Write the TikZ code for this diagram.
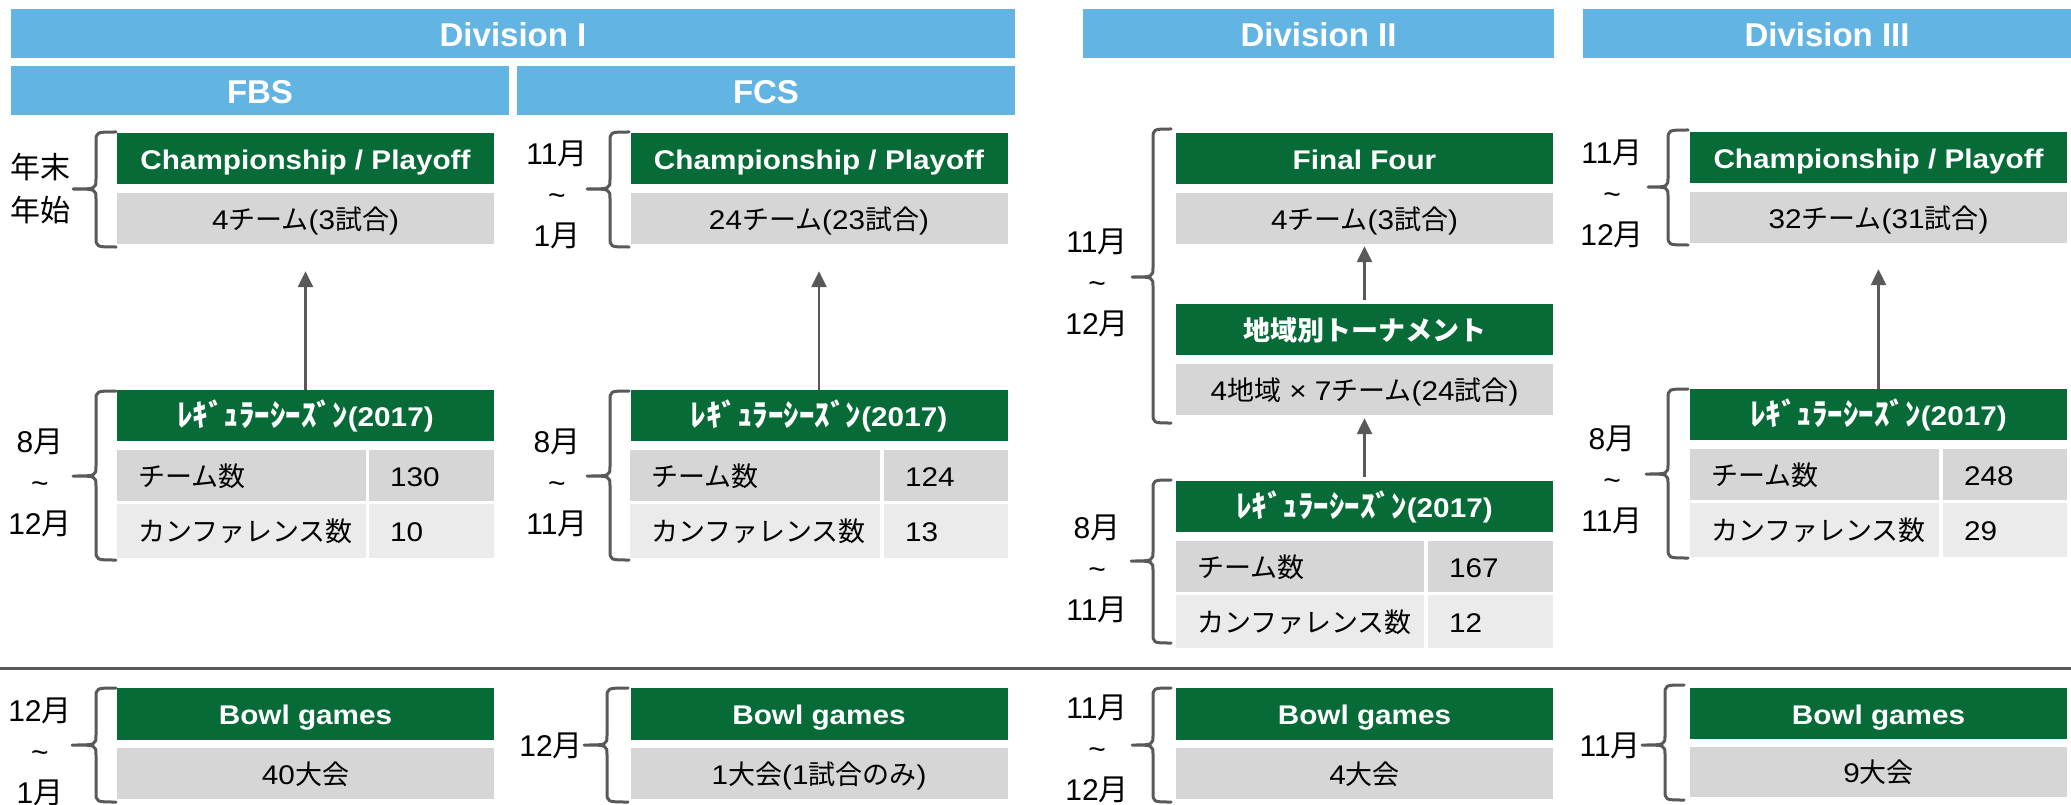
\documentclass[tikz,border=0pt]{standalone}
\usepackage{fontspec}
\setmainfont{Liberation Sans}
\newfontfamily\jpfont{Noto Sans CJK JP}
\newfontfamily\latw[FakeStretch=1.1]{Liberation Sans}
\usetikzlibrary{arrows.meta}
\definecolor{hdrblue}{HTML}{62B4E3}
\definecolor{boxgreen}{HTML}{066B37}
\definecolor{cellgray}{HTML}{D6D6D6}
\definecolor{cellgraytwo}{HTML}{EBEBEB}
\definecolor{linegray}{HTML}{595959}
\newcommand\jtxt[1]{{\jpfont #1}}
\newcommand\hwk[1]{{\jpfont\fontsize{31}{34}\selectfont #1}}
\newcommand\mybrc[6]{\draw[brc] (#1,#4) .. controls (#2,#4) .. (#2,#4+10) -- (#2,#5-10) .. controls (#2,#5) .. (#3,#5) .. controls (#2,#5) .. (#2,#5+10) -- (#2,#6-10) .. controls (#2,#6) .. (#1,#6);}
\begin{document}
\begin{tikzpicture}[x=1pt,y=-1pt,
 hdr/.style={fill=hdrblue, text=white, font=\fontsize{33}{36}\selectfont\bfseries, inner sep=0pt, minimum height=49pt, text height=26pt, text depth=0pt},
 gbox/.style={fill=boxgreen, text=white, font=\latw\bfseries\fontsize{27}{30}\selectfont, inner sep=0pt, minimum width=377pt, text height=21.5pt, text depth=0pt},
 nbox/.style={fill=cellgray, text=black, font=\latw\fontsize{27}{30}\selectfont, inner sep=0pt, minimum width=377pt, text height=21.5pt, text depth=0pt},
 cellA/.style={fill=cellgray, text=black, font=\latw\fontsize{27}{30}\selectfont, inner xsep=21pt, inner ysep=0pt, align=left, text height=21.5pt, text depth=0pt},
 cellB/.style={cellA, fill=cellgraytwo},
 mon/.style={font=\fontsize{30}{41}\selectfont, align=center, inner sep=0pt, text=black},
 brc/.style={draw=linegray, line width=3pt, line cap=round, line join=round},
 arr/.style={draw=linegray, line width=2.5pt, -{Triangle[length=16pt,width=15pt]}},
 sepline/.style={draw=linegray, line width=3pt}
]
\useasboundingbox (0,0) rectangle (2071,805);
\fill[white] (0,0) rectangle (2071,805);

% headers
\node[hdr, minimum width=1004pt] (div1) at (513,33.5) {Division I};
\node[hdr, minimum width=498pt] (fbs) at (260,90.5) {FBS};
\node[hdr, minimum width=498pt] (fcs) at (766,90.5) {FCS};
\node[hdr, minimum width=471pt] (div2) at (1318.5,33.5) {Division II};
\node[hdr, minimum width=488pt] (div3) at (1827,33.5) {Division III};

% FBS
\node[gbox, minimum height=51pt] (fbsChamp) at (305.5,158.5) {Championship / Playoff};
\node[nbox, minimum height=51pt] (fbsChampN) at (305.5,218.5) {4\jtxt{チーム}(3\jtxt{試合})};
\node[gbox, minimum height=51pt] (fbsReg) at (305.5,415.5) {\hwk{ﾚｷﾞｭﾗｰｼｰｽﾞﾝ}(2017)};
\node[cellA, text width=207pt, minimum height=51pt] (fbsT1L) at (241.5,475.5) {\jtxt{チーム数}};
\node[cellA, text width=83pt, minimum height=51pt] (fbsT1R) at (431.5,475.5) {130};
\node[cellB, text width=207pt, minimum height=54pt] (fbsT2L) at (241.5,531) {\jtxt{カンファレンス数}};
\node[cellB, text width=83pt, minimum height=54pt] (fbsT2R) at (431.5,531) {10};
\node[gbox, minimum height=52pt] (fbsBowl) at (305.5,714) {Bowl games};
\node[nbox, minimum height=51pt] (fbsBowlN) at (305.5,773.5) {40\jtxt{大会}};

% FCS
\node[gbox, minimum height=51pt] (fcsChamp) at (819,158.5) {Championship / Playoff};
\node[nbox, minimum height=51pt] (fcsChampN) at (819,218.5) {24\jtxt{チーム}(23\jtxt{試合})};
\node[gbox, minimum height=51pt] (fcsReg) at (819,415.5) {\hwk{ﾚｷﾞｭﾗｰｼｰｽﾞﾝ}(2017)};
\node[cellA, text width=208pt, minimum height=51pt] (fcsT1L) at (755,475.5) {\jtxt{チーム数}};
\node[cellA, text width=82pt, minimum height=51pt] (fcsT1R) at (946,475.5) {124};
\node[cellB, text width=208pt, minimum height=54pt] (fcsT2L) at (755,531) {\jtxt{カンファレンス数}};
\node[cellB, text width=82pt, minimum height=54pt] (fcsT2R) at (946,531) {13};
\node[gbox, minimum height=52pt] (fcsBowl) at (819,714) {Bowl games};
\node[nbox, minimum height=51pt] (fcsBowlN) at (819,773.5) {1\jtxt{大会}(1\jtxt{試合のみ})};

% Division II
\node[gbox, minimum height=51pt] (dtwoFinal) at (1364.5,158.5) {Final Four};
\node[nbox, minimum height=51pt] (dtwoFinalN) at (1364.5,218.5) {4\jtxt{チーム}(3\jtxt{試合})};
\node[gbox, minimum height=51pt] (dtwoReg) at (1364.5,329.5) {\jtxt{地域別トーナメント}};
\node[nbox, minimum height=51pt] (dtwoRegN) at (1364.5,389.5) {4\jtxt{地域} × 7\jtxt{チーム}(24\jtxt{試合})};
\node[gbox, minimum height=51pt] (dtwoSeason) at (1364.5,506.5) {\hwk{ﾚｷﾞｭﾗｰｼｰｽﾞﾝ}(2017)};
\node[cellA, text width=206pt, minimum height=51pt] (dtwoT1L) at (1300,566.5) {\jtxt{チーム数}};
\node[cellA, text width=83pt, minimum height=51pt] (dtwoT1R) at (1490.5,566.5) {167};
\node[cellB, text width=206pt, minimum height=53pt] (dtwoT2L) at (1300,621.5) {\jtxt{カンファレンス数}};
\node[cellB, text width=83pt, minimum height=53pt] (dtwoT2R) at (1490.5,621.5) {12};
\node[gbox, minimum height=52pt] (dtwoBowl) at (1364.5,714) {Bowl games};
\node[nbox, minimum height=51pt] (dtwoBowlN) at (1364.5,773.5) {4\jtxt{大会}};

% Division III
\node[gbox, minimum height=51pt] (dthrChamp) at (1878.5,157.5) {Championship / Playoff};
\node[nbox, minimum height=51pt] (dthrChampN) at (1878.5,217.5) {32\jtxt{チーム}(31\jtxt{試合})};
\node[gbox, minimum height=51pt] (dthrReg) at (1878.5,414.5) {\hwk{ﾚｷﾞｭﾗｰｼｰｽﾞﾝ}(2017)};
\node[cellA, text width=207pt, minimum height=51pt] (dthrT1L) at (1814.5,474.5) {\jtxt{チーム数}};
\node[cellA, text width=82pt, minimum height=51pt] (dthrT1R) at (2005,474.5) {248};
\node[cellB, text width=207pt, minimum height=54pt] (dthrT2L) at (1814.5,530) {\jtxt{カンファレンス数}};
\node[cellB, text width=82pt, minimum height=54pt] (dthrT2R) at (2005,530) {29};
\node[gbox, minimum height=51pt] (dthrBowl) at (1878.5,713.5) {Bowl games};
\node[nbox, minimum height=50pt] (dthrBowlN) at (1878.5,772) {9\jtxt{大会}};

% arrows
\draw[arr, shorten >=27pt] (fbsReg.north) -- (fbsChampN.south);
\draw[arr, shorten >=27pt] (fcsReg.north) -- (fcsChampN.south);
\draw[arr, shorten <=4pt, shorten >=2pt] (dtwoReg.north) -- (dtwoFinalN.south);
\draw[arr, shorten <=4pt, shorten >=3pt] (dtwoSeason.north) -- (dtwoRegN.south);
\draw[arr, shorten >=26pt] (dthrReg.north) -- (dthrChampN.south);

% separator
\coordinate (sepL) at (0,668);
\coordinate (sepR) at (2071,668);
\draw[sepline] (sepL) -- (sepR);

% braces
\mybrc{116}{96}{73}{132}{189}{247}
\mybrc{116}{96}{73}{391}{476}{560}
\mybrc{116}{96}{72}{688}{745}{802}
\mybrc{629}{610}{587}{132}{189}{247}
\mybrc{629}{610}{587}{391}{476}{560}
\mybrc{628}{607}{584}{688}{745}{802}
\mybrc{1171}{1153}{1132}{129}{277}{423}
\mybrc{1171}{1153}{1131}{480}{561}{643}
\mybrc{1171}{1153}{1132}{688}{745}{802}
\mybrc{1688}{1668}{1648}{130}{187}{245}
\mybrc{1688}{1668}{1646}{389}{474}{558}
\mybrc{1684}{1665}{1642}{685}{745}{800}

% month labels
\node[mon, font=\fontsize{30}{43}\selectfont] (fbsTopM) at (40,188.5) {\jtxt{年末}\\\jtxt{年始}};
\node[mon] (fbsRegM) at (40,482.5) {8\jtxt{月}\\\textasciitilde\\12\jtxt{月}};
\node[mon] (fbsBowlM) at (40,751.5) {12\jtxt{月}\\\textasciitilde\\1\jtxt{月}};
\node[mon] (fcsTopM) at (557,195) {11\jtxt{月}\\\textasciitilde\\1\jtxt{月}};
\node[mon] (fcsRegM) at (557,482.5) {8\jtxt{月}\\\textasciitilde\\11\jtxt{月}};
\node[mon, anchor=east] (fcsBowlM) at (583,746) {12\jtxt{月}};
\node[mon] (dtwoTopM) at (1097,282.5) {11\jtxt{月}\\\textasciitilde\\12\jtxt{月}};
\node[mon] (dtwoRegM) at (1097,568.5) {8\jtxt{月}\\\textasciitilde\\11\jtxt{月}};
\node[mon] (dtwoBowlM) at (1097,748.5) {11\jtxt{月}\\\textasciitilde\\12\jtxt{月}};
\node[mon] (dthrTopM) at (1612,193.5) {11\jtxt{月}\\\textasciitilde\\12\jtxt{月}};
\node[mon] (dthrRegM) at (1612,480) {8\jtxt{月}\\\textasciitilde\\11\jtxt{月}};
\node[mon, anchor=east] (dthrBowlM) at (1641,746) {11\jtxt{月}};
\end{tikzpicture}
\end{document}
